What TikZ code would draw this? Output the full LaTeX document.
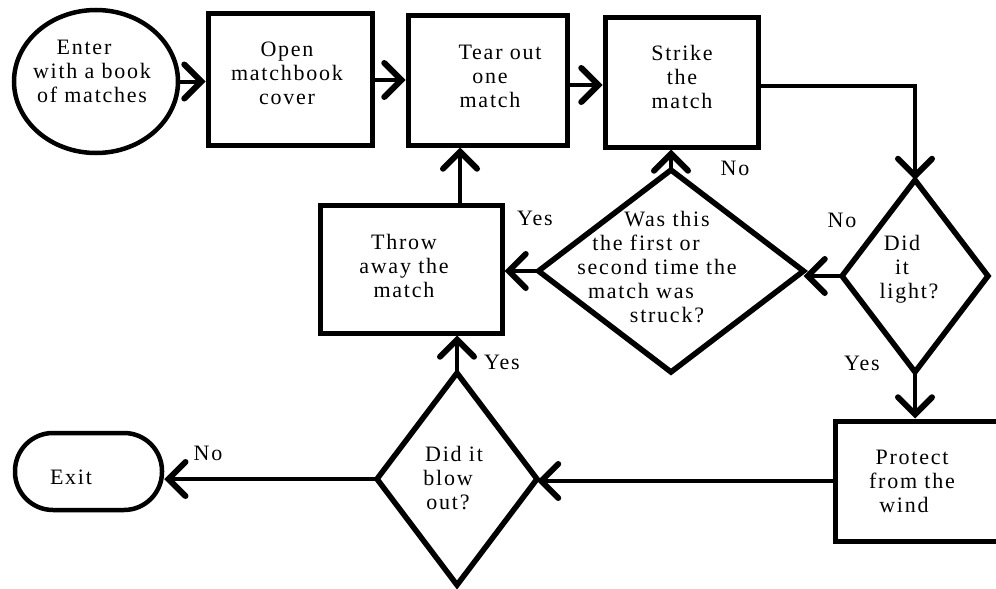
\documentclass[tikz,border=0pt]{standalone}
\usepackage{fontspec}
\setmainfont{Liberation Serif}[LetterSpace=8]
\usetikzlibrary{shapes.geometric,arrows.meta,calc}
\begin{document}
\begin{tikzpicture}[x=1pt,y=-1pt,
  every node/.style={inner sep=0pt},
  tfont/.style={font=\fontsize{22pt}{24pt}\selectfont},
  txt/.style={tfont,align=center},
  lbl/.style={tfont},
  boxshape/.style={draw,line width=5pt,rectangle},
  dia/.style={diamond,draw,line width=5.5pt,outer sep=0pt},
  conn/.style={line width=4pt,-{Straight Barb[length=17pt,width=34pt,line width=0pt 1.5,line cap=round]}},
  line/.style={line width=4pt}]
\useasboundingbox (0,0) rectangle (996,589);

% shapes
\node[ellipse,draw,line width=4.5pt,minimum width=164pt,minimum height=143pt] (enter) at (96,81.5) {};
\node[boxshape,minimum width=164pt,minimum height=132pt] (open) at (290,79) {};
\node[boxshape,minimum width=159pt,minimum height=130pt] (tear) at (487.5,80) {};
\node[boxshape,minimum width=153pt,minimum height=130pt] (strike) at (681.5,82) {};
\node[boxshape,minimum width=182pt,minimum height=128pt] (throw) at (411,269) {};
\node[dia,minimum width=265pt,minimum height=202pt] (was) at (671,271) {};
\node[dia,minimum width=146pt,minimum height=192pt] (light) at (915,276) {};
\node[boxshape,minimum width=170pt,minimum height=120pt] (protect) at (920,481) {};
\node[dia,minimum width=160pt,minimum height=212pt] (blow) at (457,479) {};
\node[draw,line width=4.5pt,rounded corners=38pt,minimum width=147pt,minimum height=77pt] (exit) at (88.5,471.5) {};

% texts
\node[txt] (enterT) at (92,71) {\mbox{Enter\hspace{16pt}}\\with a book\\of matches};
\node[txt] (openT) at (287,73) {Open\\matchbook\\cover};
\node[txt] (tearT) at (490,76) {\mbox{\hspace{20pt}Tear out}\\one\\match};
\node[txt] (strikeT) at (682,77) {Strike\\the\\match};
\node[txt] (throwT) at (404,266) {Throw\\away the\\match};
\node[txt] (wasT) at (657,267) {\mbox{\hspace{20pt}Was this}\\\mbox{the first or\hspace{22pt}}\\second time the\\\mbox{match was\hspace{32pt}}\\\mbox{\hspace{20pt}struck?}};
\node[txt] (lightT) at (902,269) {Did\\it\\\mbox{\hspace{14pt}light?}};
\node[txt] (blowT) at (448,478) {\mbox{\hspace{12pt}Did it}\\blow\\out?};
\node[txt] (protectT) at (912,481) {Protect\\from the\\\mbox{wind\hspace{16pt}}};
\node[txt] (exitT) at (71,477) {Exit};

% labels
\node[lbl] (noLight) at (842,220) {No};
\node[lbl] (yesLight) at (862,363) {Yes};
\node[lbl] (noWas) at (735,168) {No};
\node[lbl] (yesWas) at (535,218) {Yes};
\node[lbl] (yesBlow) at (502,362) {Yes};
\node[lbl] (noBlow) at (208,453) {No};

% connectors
\coordinate (throwUp) at ($(throw.north)+(49pt,0)$);
\draw[conn] (enter.east) -- (enter.east -| open.west);
\draw[conn] ([yshift=-1pt]open.east) -- ([yshift=-1pt]open.east -| tear.west);
\draw[conn] ([yshift=-5pt]tear.east) -- ([yshift=-5pt]tear.east -| strike.west);
\draw[conn] ([yshift=-4pt]strike.east) -| (light.north);
\draw[conn] (light.west) -- (light.west -| was.east);
\draw[conn] (was.north) -- (was.north |- strike.south);
\draw[conn] (was.west) -- (was.west -| throw.east);
\draw[conn] (throwUp) -- (throwUp |- tear.south);
\draw[conn] (light.south) -- (light.south |- protect.north);
\draw[conn] (protect.west) -- (protect.west -| blow.east);
\draw[conn] (blow.north) -- (blow.north |- throw.south);
\draw[conn] (blow.west) -- (blow.west -| exit.east);
\end{tikzpicture}
\end{document}
